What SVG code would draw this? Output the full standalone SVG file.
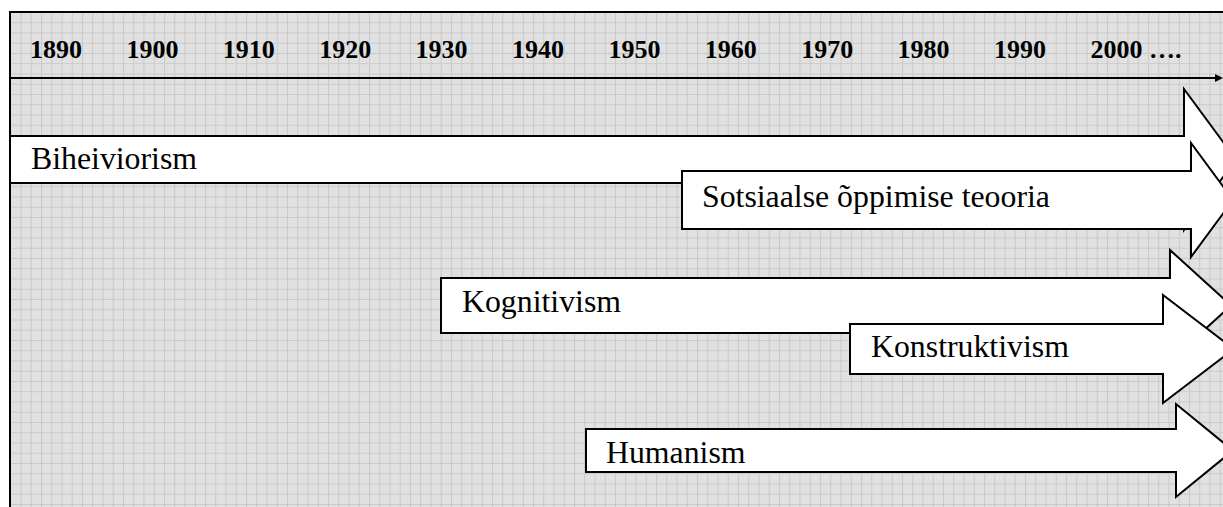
<svg xmlns="http://www.w3.org/2000/svg" width="1223" height="507" viewBox="0 0 1223 507">
  <defs>
    <!-- light graph-paper fill for the timeline panel -->
    <pattern id="grid" patternUnits="userSpaceOnUse" x="20.5" y="12" width="10.25" height="10.25">
      <rect width="10.25" height="10.25" fill="#e1e1e1"/>
      <path d="M0.5 0 V10.25 M0 0.5 H10.25" stroke="#c9c9c9" stroke-width="1" fill="none"/>
    </pattern>
    <marker id="axisHead" markerWidth="8" markerHeight="8" refX="1" refY="4" orient="auto" markerUnits="userSpaceOnUse">
      <path d="M0 0 L8 4 L0 8 Z" fill="#000"/>
    </marker>
  </defs>
  <style>
    .year { font-family: "Liberation Serif", "Times New Roman", serif; font-weight: bold; font-size: 26px; fill: #000; }
    .label { font-family: "Liberation Serif", "Times New Roman", serif; font-size: 31.8px; fill: #000; }
    .band { fill: #fff; stroke: #000; stroke-width: 2; stroke-linejoin: miter; }
  </style>

  <rect width="1223" height="507" fill="#fff"/>

  <!-- panel -->
  <g id="panel">
    <rect x="10" y="12" width="1240" height="520" fill="url(#grid)" stroke="#000" stroke-width="2"/>
  </g>

  <!-- decade scale -->
  <g id="scale">
    <text class="year" x="30" y="58">1890</text>
    <text class="year" x="126.4" y="58">1900</text>
    <text class="year" x="222.8" y="58">1910</text>
    <text class="year" x="319.2" y="58">1920</text>
    <text class="year" x="415.6" y="58">1930</text>
    <text class="year" x="512" y="58">1940</text>
    <text class="year" x="608.4" y="58">1950</text>
    <text class="year" x="704.8" y="58">1960</text>
    <text class="year" x="801.2" y="58">1970</text>
    <text class="year" x="897.6" y="58">1980</text>
    <text class="year" x="994" y="58">1990</text>
    <text class="year" x="1090.4" y="58">2000 ….</text>
  </g>

  <!-- time axis -->
  <g id="connectors">
    <line x1="10" y1="78" x2="1216" y2="78" stroke="#000" stroke-width="2" marker-end="url(#axisHead)"/>
  </g>

  <!-- theory bands -->
  <g id="biheiviorism">
    <path class="band" d="M10 136 H1184 V89 L1236 159.5 L1184 230 V183 H10 Z"/>
    <text class="label" x="31" y="169">Biheiviorism</text>
  </g>

  <g id="sotsiaalse">
    <path class="band" d="M682 171 H1191 V143 L1233 200 L1191 257 V229 H682 Z"/>
    <text class="label" x="702" y="207">Sotsiaalse õppimise teooria</text>
  </g>

  <g id="kognitivism">
    <path class="band" d="M441 278 H1170 V250 L1231 305.5 L1170 361 V333 H441 Z"/>
    <text class="label" x="462" y="312">Kognitivism</text>
  </g>

  <g id="konstruktivism">
    <path class="band" d="M850 324 H1163 V295 L1234 349 L1163 403 V374 H850 Z"/>
    <text class="label" x="871" y="357">Konstruktivism</text>
  </g>

  <g id="humanism">
    <path class="band" d="M586 429 H1176 V404 L1233 450.5 L1176 497 V472 H586 Z"/>
    <text class="label" x="606" y="463">Humanism</text>
  </g>
</svg>
